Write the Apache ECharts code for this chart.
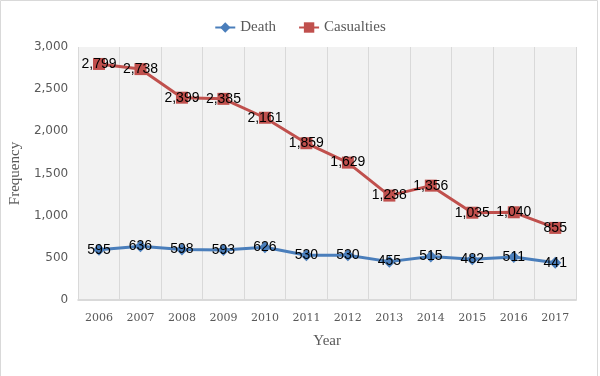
<!DOCTYPE html>
<html><head><meta charset="utf-8">
<script src="https://cdn.jsdelivr.net/npm/echarts@6/dist/echarts.min.js"></script>
<style>html,body{margin:0;padding:0;background:#fff}#c{width:600px;height:376px}</style>
</head><body><div id="c"></div>
<script>
const years = ['2006','2007','2008','2009','2010','2011','2012','2013','2014','2015','2016','2017'];
const death = [595,636,598,593,626,530,530,455,515,482,511,441];
const casualties = [2799,2738,2399,2385,2161,1859,1629,1238,1356,1035,1040,855];
const yTicks = {min:0,max:3000,interval:500};

const chart = echarts.init(document.getElementById('c'));
const lbl = {show:true,position:'inside',color:'#000',fontFamily:'Liberation Sans',fontSize:14,
  formatter:p=>p.value.toLocaleString('en-US')};
chart.setOption({
  animation:false,
  graphic:[{type:'rect',shape:{x:0.5,y:0.5,width:597,height:380},style:{fill:'none',stroke:'#d9d9d9',lineWidth:1},silent:true}],
  legend:{top:15,left:'center',itemGap:22,itemWidth:20,itemHeight:13,
    textStyle:{fontFamily:'Liberation Serif',fontSize:15,color:'#595959'},
    data:['Death','Casualties']},
  grid:{left:77,right:24,top:47,bottom:76,show:true,backgroundColor:'#f2f2f2',borderWidth:0},
  xAxis:{type:'category',data:years,boundaryGap:true,name:'Year',nameLocation:'middle',nameGap:34,
    nameTextStyle:{fontFamily:'Liberation Serif',fontSize:15,color:'#595959'},
    axisLine:{lineStyle:{color:'#d9d9d9',width:2}},axisTick:{show:false},
    axisLabel:{fontFamily:'DejaVu Serif',fontSize:11,color:'#595959',margin:13},
    splitLine:{show:true,lineStyle:{color:'#d9d9d9',width:1}}},
  yAxis:{type:'value',min:yTicks.min,max:yTicks.max,interval:yTicks.interval,name:'Frequency',nameLocation:'middle',nameGap:53,
    nameTextStyle:{fontFamily:'Liberation Serif',fontSize:15,color:'#595959'},
    axisLine:{show:false},axisTick:{show:false},splitLine:{show:false},
    axisLabel:{fontFamily:'DejaVu Sans',fontSize:12,color:'#595959',margin:10,formatter:v=>v.toLocaleString('en-US')}},
  series:[
    {name:'Death',type:'line',data:death,symbol:'diamond',symbolSize:12,
     itemStyle:{color:'#4a7ebb'},lineStyle:{color:'#4a7ebb',width:3},label:lbl},
    {name:'Casualties',type:'line',data:casualties,symbol:'rect',symbolSize:12,
     itemStyle:{color:'#c0504d'},lineStyle:{color:'#c0504d',width:3},label:lbl}
  ]
});
</script></body></html>
